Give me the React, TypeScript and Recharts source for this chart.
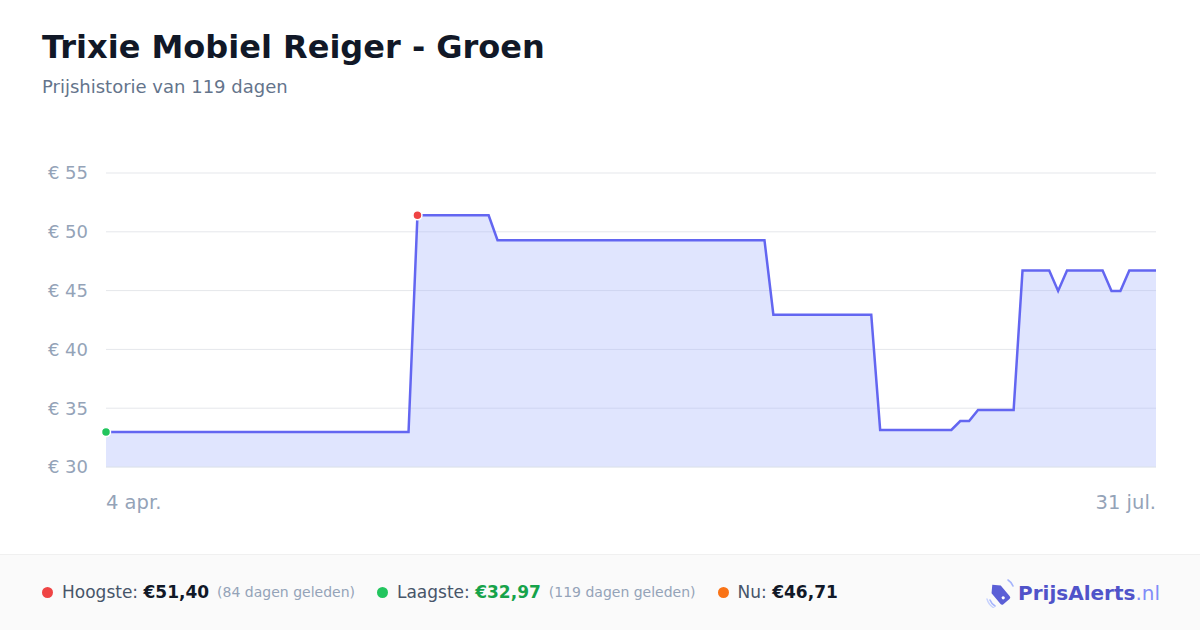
import { AreaChart, Area, XAxis, YAxis, CartesianGrid } from "recharts";

// dagprijzen, 4 apr. t/m 31 jul. (119 dagen)
const prices: number[] = [
    32.97, 32.97, 32.97, 32.97, 32.97, 32.97, 32.97, 32.97, 32.97, 32.97,
    32.97, 32.97, 32.97, 32.97, 32.97, 32.97, 32.97, 32.97, 32.97, 32.97,
    32.97, 32.97, 32.97, 32.97, 32.97, 32.97, 32.97, 32.97, 32.97, 32.97,
    32.97, 32.97, 32.97, 32.97, 32.97,
    51.4, 51.4, 51.4, 51.4, 51.4, 51.4, 51.4, 51.4, 51.4,
    49.29, 49.29, 49.29, 49.29, 49.29, 49.29, 49.29, 49.29, 49.29, 49.29,
    49.29, 49.29, 49.29, 49.29, 49.29, 49.29, 49.29, 49.29, 49.29, 49.29,
    49.29, 49.29, 49.29, 49.29, 49.29, 49.29, 49.29, 49.29, 49.29, 49.29,
    49.29,
    42.95, 42.95, 42.95, 42.95, 42.95, 42.95, 42.95, 42.95, 42.95, 42.95,
    42.95, 42.95,
    33.15, 33.15, 33.15, 33.15, 33.15, 33.15, 33.15, 33.15, 33.15,
    33.91, 33.91,
    34.85, 34.85, 34.85, 34.85, 34.85,
    46.71, 46.71, 46.71, 46.71,
    44.97,
    46.71, 46.71, 46.71, 46.71, 46.71,
    44.97, 44.97,
    46.71, 46.71, 46.71, 46.71,
];

const xTickLabels = ["4 apr.", "31 jul."];
const yTicks = [30, 35, 40, 45, 50, 55];

const stats = {
    high: "€51,40",
    highAgo: "(84 dagen geleden)",
    low: "€32,97",
    lowAgo: "(119 dagen geleden)",
    now: "€46,71",
};

const FONT = "'DejaVu Sans', Verdana, sans-serif";
const LINE = "#6366f1";

const data = prices.map((p, i) => ({ i, p }));
const lastIdx = prices.length - 1;
const maxIdx = prices.indexOf(Math.max(...prices));
const minIdx = prices.indexOf(Math.min(...prices));

function XTick(props: any) {
    const { x, y, payload } = props;
    const first = payload.value === 0;
    return (
        <text
            x={x}
            y={y}
            dy="0.71em"
            textAnchor={first ? "start" : "end"}
            fill="#94a3b8"
            fontSize={19.5}
            fontFamily={FONT}
        >
            {first ? xTickLabels[0] : xTickLabels[1]}
        </text>
    );
}

function PriceDot(props: any) {
    const { cx, cy, index } = props;
    if (index === minIdx || index === maxIdx) {
        return (
            <circle
                key={`dot-${index}`}
                cx={cx}
                cy={cy}
                r={4.5}
                fill={index === maxIdx ? "#ef4444" : "#22c55e"}
                stroke="#ffffff"
                strokeWidth={1.5}
            />
        );
    }
    return <g key={`dot-${index}`} />;
}

function Dot({ color }: { color: string }) {
    return (
        <span
            style={{
                display: "inline-block",
                width: 11,
                height: 11,
                borderRadius: 6,
                background: color,
                marginRight: 9,
            }}
        />
    );
}

function Logo() {
    return (
        <div style={{ position: "absolute", right: 40, top: 578, display: "flex", alignItems: "center" }}>
            <svg width={30} height={30} viewBox="0 0 30 30" style={{ marginRight: 2 }}>
                <path d="M4 22 A12 12 0 0 0 9 28" fill="none" stroke="#a5b4fc" strokeWidth={1.6} strokeLinecap="round" />
                <path d="M1 21 A15 15 0 0 0 8 30" fill="none" stroke="#c7d2fe" strokeWidth={1.4} strokeLinecap="round" />
                <path d="M22 2 A12 12 0 0 1 27 8" fill="none" stroke="#a5b4fc" strokeWidth={1.6} strokeLinecap="round" />
                <g transform="rotate(-40 14 16)">
                    <path d="M8 10 L14 4 L20 10 L20 24 Q20 26 18 26 L10 26 Q8 26 8 24 Z" fill="#5b5fd6" />
                    <circle cx={14} cy={21} r={1.6} fill="#ffffff" />
                </g>
            </svg>
            <span style={{ fontSize: 20, fontWeight: 700, color: "#5053c9" }}>PrijsAlerts</span>
            <span style={{ fontSize: 20, color: "#818cf8" }}>.nl</span>
        </div>
    );
}

export default function App() {
    return (
        <div
            style={{
                position: "absolute",
                top: 0,
                left: 0,
                width: 1200,
                height: 630,
                background: "#ffffff",
                fontFamily: FONT,
                overflow: "hidden",
            }}
        >
            <div style={{ position: "absolute", left: 42, top: 28, fontSize: 32, fontWeight: 700, color: "#111827" }}>
                Trixie Mobiel Reiger - Groen
            </div>
            <div style={{ position: "absolute", left: 42, top: 76, fontSize: 18, color: "#64748b" }}>
                Prijshistorie van 119 dagen
            </div>

            <div style={{ position: "absolute", left: 0, top: 150 }}>
                <AreaChart
                    width={1200}
                    height={380}
                    data={data}
                    margin={{ top: 23, right: 44, bottom: 3, left: 36 }}
                >
                    <CartesianGrid vertical={false} stroke="#e5e7eb" strokeWidth={1} />
                    <XAxis
                        dataKey="i"
                        type="number"
                        domain={[0, lastIdx]}
                        ticks={[0, lastIdx]}
                        tick={<XTick />}
                        tickLine={false}
                        axisLine={{ stroke: "#e2e8f0" }}
                        tickMargin={22}
                        height={60}
                    />
                    <YAxis
                        domain={[30, 55]}
                        ticks={yTicks}
                        tickFormatter={(v: number) => `€ ${v}`}
                        tick={{ fill: "#94a3b8", fontSize: 18, fontFamily: FONT }}
                        tickLine={false}
                        axisLine={false}
                        tickMargin={12}
                        width={70}
                    />
                    <Area
                        type="linear"
                        dataKey="p"
                        stroke={LINE}
                        strokeWidth={2.5}
                        fill="#a5b4fc"
                        fillOpacity={0.35}
                        dot={PriceDot}
                        activeDot={false}
                        isAnimationActive={false}
                    />
                </AreaChart>
            </div>

            <div
                style={{
                    position: "absolute",
                    left: 0,
                    top: 554,
                    width: 1200,
                    height: 76,
                    background: "#fafafa",
                    borderTop: "1px solid #f0f0f0",
                }}
            />
            <div
                style={{
                    position: "absolute",
                    left: 42,
                    top: 582,
                    display: "flex",
                    alignItems: "center",
                    fontSize: 17,
                    color: "#475569",
                    whiteSpace: "nowrap",
                }}
            >
                <Dot color="#ef4444" />
                <span>Hoogste:&nbsp;</span>
                <span style={{ fontWeight: 700, color: "#111827" }}>{stats.high}</span>
                <span style={{ fontSize: 14, color: "#94a3b8", marginLeft: 8 }}>{stats.highAgo}</span>
                <span style={{ width: 22 }} />
                <Dot color="#22c55e" />
                <span>Laagste:&nbsp;</span>
                <span style={{ fontWeight: 700, color: "#16a34a" }}>{stats.low}</span>
                <span style={{ fontSize: 14, color: "#94a3b8", marginLeft: 8 }}>{stats.lowAgo}</span>
                <span style={{ width: 22 }} />
                <Dot color="#f97316" />
                <span>Nu:&nbsp;</span>
                <span style={{ fontWeight: 700, color: "#111827" }}>{stats.now}</span>
            </div>
            <Logo />
        </div>
    );
}
